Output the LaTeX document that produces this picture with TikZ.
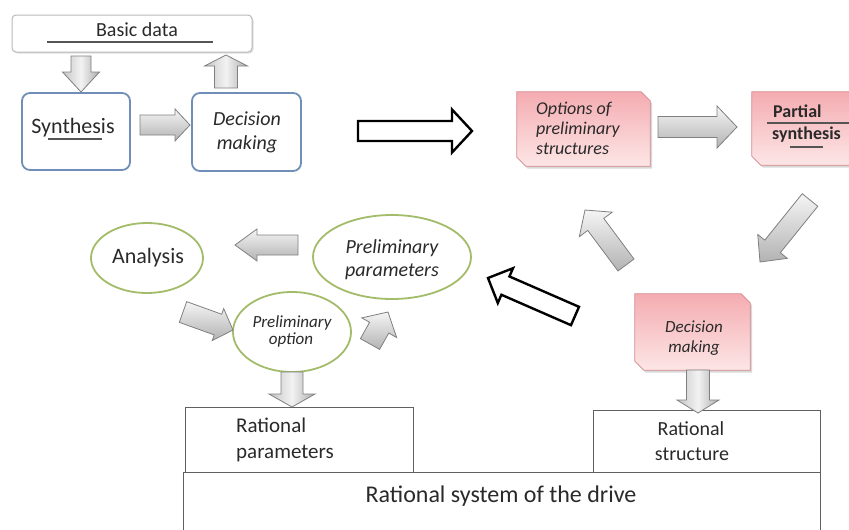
\documentclass[tikz,border=0pt]{standalone}
\usepackage{fontspec}
\setmainfont{Carlito}
\usetikzlibrary{calc,shapes.geometric,shadows}
\definecolor{boxblue}{HTML}{6F8FB8}
\definecolor{ellgreen}{HTML}{A3BC6A}
\definecolor{pinktop}{HTML}{F4ACB1}
\definecolor{pinkbot}{HTML}{FDE6E6}
\definecolor{pinkedge}{HTML}{D58A8F}
\definecolor{arrgray}{HTML}{808080}
\definecolor{txt}{HTML}{2A2A2A}
\newcommand\fsz[1]{\fontsize{#1}{#1}\selectfont}
% block arrow: style, start, end, half shaft, half head, head length
\newcommand\blockarr[6]{%
  \coordinate (bah) at ($(#3)!#6!(#2)$);
  \draw[#1] ($(#2)!#4!90:(#3)$) -- ($(bah)!#4!90:(#3)$) -- ($(bah)!#5!90:(#3)$)
    -- (#3) -- ($(bah)!#5!-90:(#3)$) -- ($(bah)!#4!-90:(#3)$) -- ($(#2)!#4!-90:(#3)$) -- cycle;}
% pink box with cut top-right and bottom-left corners, drawn round a named node
\newcommand\pinkshape[2]{%
  \draw[pinkdraw] (#1.north west) -- ($(#1.north east)+(-#2,0)$) -- ($(#1.north east)+(0,#2)$)
    -- (#1.south east) -- ($(#1.south west)+(#2,0)$) -- ($(#1.south west)+(0,-#2)$) -- cycle;}
\begin{document}
\begin{tikzpicture}[x=1pt,y=-1pt,
  bluebox/.style={draw=boxblue, line width=1.8pt, rounded corners=8pt, fill=white, inner sep=0pt},
  plainbox/.style={draw=gray!75!black, line width=1pt, fill=white, inner sep=0pt},
  topbox/.style={draw=gray!55, line width=1pt, fill=white, rounded corners=4pt, inner sep=0pt,
    drop shadow={shadow xshift=1.5pt, shadow yshift=-1.5pt, opacity=0.25}},
  pinkbox/.style={rectangle, inner sep=0pt},
  pinkdraw/.style={draw=pinkedge, line width=0.7pt, top color=pinktop, bottom color=pinkbot,
    drop shadow={shadow xshift=2pt, shadow yshift=-2.5pt, opacity=0.3}},
  greenell/.style={ellipse, draw=ellgreen, line width=1.8pt, fill=white, inner sep=0pt},
  grayarr/.style={draw=arrgray, line width=0.8pt, top color=gray!8, bottom color=gray!60, line join=miter},
  grayarrv/.style={draw=arrgray, line width=0.8pt, left color=gray!45, right color=gray!65,
    middle color=gray!10, line join=miter},
  blackarr/.style={draw=black, line width=2.4pt, fill=white, line join=miter},
  lbl/.style={inner sep=0pt, text=txt},
  uline/.style={draw=txt!80, line width=1.1pt}
]
\useasboundingbox (0,0) rectangle (849,530);
\fill[white] (0,0) rectangle (849,530);

% ---- top-left group
\node[topbox, minimum width=240pt, minimum height=37pt] (basic) at (132,33.5) {};
\node[lbl, anchor=base, font=\fsz{20}] (basict) at (137,36) {Basic data};
\draw[uline] (47,42) -- (213,42);

\node[bluebox, minimum width=108pt, minimum height=77pt] (syn) at (76,131.5) {};
\node[lbl, anchor=base, font=\fsz{22}] (synt) at (73,133) {Synthesis};
\draw[uline] (48,139) -- (102,139);

\node[bluebox, minimum width=109pt, minimum height=78pt] (dec) at (246.5,132) {};
\node[lbl, anchor=base, font=\fsz{20}\itshape] (dect1) at (247,125) {Decision};
\node[lbl, anchor=base, font=\fsz{20}\itshape] (dect2) at (247,149) {making};

\coordinate (a1s) at (81,56);  \coordinate (a1e) at (81,92);
\blockarr{grayarrv}{a1s}{a1e}{10pt}{18.5pt}{20pt}
\coordinate (a2s) at (140,125); \coordinate (a2e) at (190,125);
\blockarr{grayarr}{a2s}{a2e}{10pt}{16pt}{15pt}
\coordinate (a3s) at (226,88); \coordinate (a3e) at (226,55);
\blockarr{grayarrv}{a3s}{a3e}{11.5pt}{21.5pt}{11pt}

% ---- big black arrow
\coordinate (a4s) at (358,131); \coordinate (a4e) at (472,131);
\blockarr{blackarr}{a4s}{a4e}{10pt}{21.5pt}{20pt}

% ---- pink boxes
\node[pinkbox, minimum width=133pt, minimum height=74pt] (opt) at (583.5,129) {};
\pinkshape{opt}{9}
\node[lbl, anchor=base west, font=\fsz{18}\itshape] (optt1) at (536,114) {Options of};
\node[lbl, anchor=base west, font=\fsz{18}\itshape] (optt2) at (536,134) {preliminary};
\node[lbl, anchor=base west, font=\fsz{18}\itshape] (optt3) at (536,154) {structures};

\node[pinkbox, minimum width=118pt, minimum height=73pt] (part) at (811,128.5) {};
\pinkshape{part}{9}
\node[lbl, anchor=base west, font=\fsz{18}\bfseries] (partt1) at (773,117) {Partial};
\node[lbl, anchor=base west, font=\fsz{18}\bfseries] (partt2) at (772,139) {synthesis};
\draw[uline] (767,123) -- (849,123);
\draw[uline] (790,147) -- (823,147);

\coordinate (a5s) at (658,127); \coordinate (a5e) at (737,127);
\blockarr{grayarr}{a5s}{a5e}{10.5pt}{21pt}{20pt}

\node[pinkbox, minimum width=115pt, minimum height=76pt] (pdec) at (692.5,332) {};
\pinkshape{pdec}{9}
\node[lbl, anchor=base, font=\fsz{17}\itshape] (pdect1) at (694,332) {Decision};
\node[lbl, anchor=base, font=\fsz{17}\itshape] (pdect2) at (694,352) {making};

\coordinate (a6s) at (810,200); \coordinate (a6e) at (760,262);
\blockarr{grayarr}{a6s}{a6e}{10pt}{19pt}{20pt}
\coordinate (a7s) at (626,265); \coordinate (a7e) at (585,210);
\blockarr{grayarr}{a7s}{a7e}{10pt}{20.5pt}{18pt}
\coordinate (a8s) at (575,316); \coordinate (a8e) at (488,278);
\blockarr{blackarr}{a8s}{a8e}{10pt}{19pt}{19pt}

% ---- bottom boxes
\node[plainbox, minimum width=637pt, minimum height=73pt] (sys) at (501.5,508.5) {};
\node[lbl, anchor=base, font=\fsz{24}] (syst) at (501,502) {Rational system of the drive};

\node[plainbox, minimum width=228pt, minimum height=65pt] (rpar) at (299,439.5) {};
\node[lbl, anchor=base west, font=\fsz{21}] (rpart1) at (236,432) {Rational};
\node[lbl, anchor=base west, font=\fsz{21}] (rpart2) at (236,458) {parameters};

\node[plainbox, minimum width=227pt, minimum height=62pt] (rstr) at (706.5,441) {};
\node[lbl, anchor=base, font=\fsz{20}] (rstrt1) at (691,435) {Rational};
\node[lbl, anchor=base, font=\fsz{20}] (rstrt2) at (692,460) {structure};

\coordinate (a9s) at (698,370); \coordinate (a9e) at (698,413);
\blockarr{grayarrv}{a9s}{a9e}{11.5pt}{21pt}{13pt}

% ---- ellipses
\node[greenell, minimum width=112pt, minimum height=70pt] (ana) at (147,258) {};
\node[lbl, anchor=base, font=\fsz{22}] (anat) at (148,263) {Analysis};

\node[greenell, minimum width=158pt, minimum height=84pt] (ppar) at (392,257) {};
\node[lbl, anchor=base, font=\fsz{20}\itshape] (ppart1) at (392,253) {Preliminary};
\node[lbl, anchor=base, font=\fsz{20}\itshape] (ppart2) at (392,276) {parameters};

\node[greenell, minimum width=118pt, minimum height=80pt] (popt) at (292,332) {};
\node[lbl, anchor=base, font=\fsz{17}\itshape] (poptt1) at (292,327) {Preliminary};
\node[lbl, anchor=base, font=\fsz{17}\itshape] (poptt2) at (291,344) {option};

\coordinate (a10s) at (298,245); \coordinate (a10e) at (235,245);
\blockarr{grayarr}{a10s}{a10e}{10pt}{16pt}{22pt}
\coordinate (a11s) at (183,312); \coordinate (a11e) at (233,330);
\blockarr{grayarr}{a11s}{a11e}{11pt}{17pt}{16pt}
\coordinate (a12s) at (370,344); \coordinate (a12e) at (388,312);
\blockarr{grayarr}{a12s}{a12e}{11pt}{20pt}{18pt}
\coordinate (a13s) at (292,372); \coordinate (a13e) at (292,407);
\blockarr{grayarrv}{a13s}{a13e}{11pt}{23pt}{13pt}
\end{tikzpicture}
\end{document}
